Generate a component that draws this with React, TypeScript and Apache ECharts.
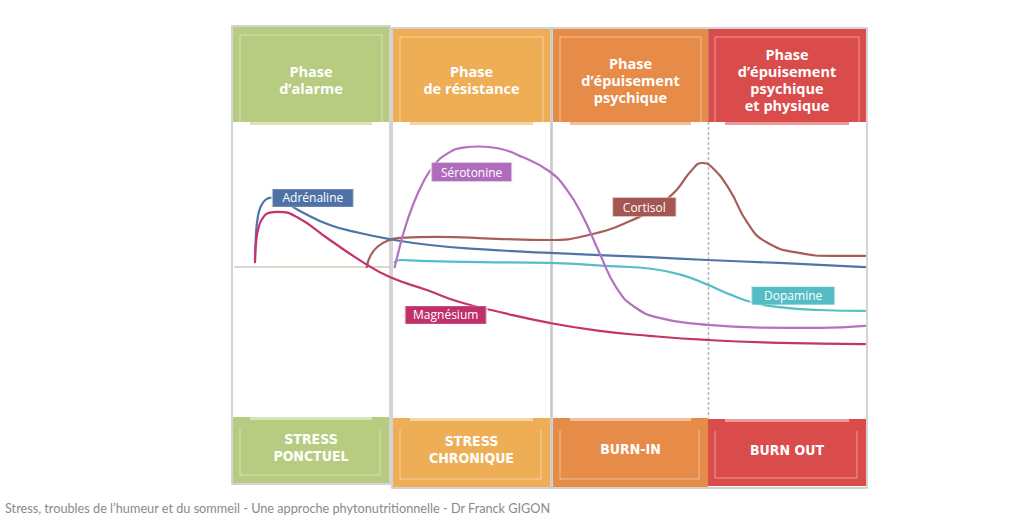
import React, { useEffect, useRef } from "react";
import * as echarts from "echarts";

// ---- Data (x: time 0..400, four phases of 100; y: level 0..100) ----
const adrenaline: number[][] = [
  [13.3, 52.7], [13.8, 61.0], [14.8, 67.0], [16.8, 71.5], [20.0, 73.9], [24.0, 74.6],
  [32.2, 73.1], [41.7, 70.1], [60.7, 65.3], [79.6, 62.6], [98.6, 60.5], [123.9, 58.5],
  [155.5, 57.1], [199.7, 55.8], [262.9, 54.4], [299.5, 53.4], [345.0, 52.4], [399.4, 51.0],
];
const magnesium: number[][] = [
  [13.3, 52.7], [14.0, 59.5], [15.6, 64.5], [18.5, 67.9], [22.7, 69.5], [27.8, 69.8], [39.8, 68.0],
  [60.7, 60.2], [81.5, 52.7], [98.6, 47.6], [122.0, 43.2], [142.8, 39.1], [168.1, 35.7],
  [199.7, 32.0], [231.3, 29.3], [262.9, 27.6], [299.5, 26.2], [345.0, 25.2], [399.4, 24.8],
];
const serotonin: number[][] = [
  [101.7, 51.0], [104.0, 56.0], [107.5, 63.0], [112.5, 71.0], [119.4, 79.5], [126.5, 85.5],
  [135.0, 89.6], [145.0, 91.6], [155.0, 92.0], [167.0, 91.4], [182.6, 88.4], [199.7, 83.5],
  [210.4, 77.5], [220.5, 68.5], [231.3, 55.8], [242.0, 44.0], [253.4, 37.5], [269.2, 33.7],
  [294.5, 31.6], [332.4, 30.4], [370.3, 30.3], [399.4, 31.0],
];
const cortisol: number[][] = [
  [84.0, 51.0], [86.5, 55.0], [91.0, 58.0], [97.0, 59.9], [105.0, 60.9], [128.3, 61.3],
  [166.2, 60.6], [199.7, 60.2], [225.0, 62.0], [250.0, 66.5], [269.2, 72.1], [280.5, 77.5],
  [289.0, 83.5], [296.4, 86.4], [302.0, 85.2], [313.4, 77.5], [325.0, 66.0], [336.8, 59.5],
  [357.7, 55.8], [378.5, 54.8], [399.4, 54.8],
];
const dopamine: number[][] = [
  [101.7, 52.7], [104.9, 53.4], [117.5, 53.1], [155.5, 52.7], [199.7, 52.4], [242.0, 51.2],
  [262.9, 50.5], [282.0, 48.5], [298.9, 45.2], [313.4, 41.8], [327.3, 39.1], [345.0, 37.4],
  [370.3, 36.4], [399.4, 36.1],
];
const baseline: number[][] = [[0, 51.0], [98.5, 51.0]];

const calloutNames = ["Adrénaline", "Sérotonine", "Cortisol", "Dopamine", "Magnésium"];
const calloutAnchors: number[][] = [[49.9, 74.5], [150.4, 83.3], [259.7, 71.4], [353.9, 41.2], [134.0, 34.7]];

const phaseTitles: string[][] = [
  ["Phase", "d’alarme"],
  ["Phase", "de résistance"],
  ["Phase", "d’épuisement", "psychique"],
  ["Phase", "d’épuisement", "psychique", "et physique"],
];
const stageLabels: string[][] = [
  ["STRESS", "PONCTUEL"],
  ["STRESS", "CHRONIQUE"],
  ["BURN-IN"],
  ["BURN OUT"],
];
const caption = "Stress, troubles de l’humeur et du sommeil - Une approche phytonutritionnelle - Dr Franck GIGON";

// ---- Styles / layout ----
const lineColors = {
  adrenaline: "#4f74a8",
  magnesium: "#c4336c",
  serotonin: "#b471be",
  cortisol: "#a75e57",
  dopamine: "#55bec6",
};
const calloutColors = ["#4e72a6", "#b06cbc", "#a45752", "#55bcc5", "#c0316b"];
const calloutSizes: number[][] = [[82, 18], [81, 19], [64, 19], [84, 18], [82, 18]];

const panelBoxes = [
  { x0: 233, x1: 389, top: 27, hb: 122, ft: 417, fb: 483, fc: 447.5, color: "#b7cc80", light: "#d8e4b8" },
  { x0: 393, x1: 550, top: 29, hb: 122, ft: 418, fb: 487, fc: 449, color: "#eeae55", light: "#f6d3a0" },
  { x0: 553, x1: 708, top: 29, hb: 122, ft: 418, fb: 487, fc: 449, color: "#e78b48", light: "#f2bf98" },
  { x0: 708, x1: 866, top: 29, hb: 122, ft: 419, fb: 486, fc: 450, color: "#da4b4b", light: "#ec9a9a" },
];

function buildGraphics() {
  const g: any[] = [];
  const borderColor = "#c5c5c5";
  const outers = [
    { x0: 233, x1: 389, top: 27, fb: 483 },
    { x0: 393, x1: 550, top: 29, fb: 487 },
    { x0: 553, x1: 866, top: 29, fb: 487 },
  ];
  outers.forEach((o) => {
    g.push({
      type: "rect",
      z: 0,
      shape: { x: o.x0 - 1, y: o.top - 1, width: o.x1 - o.x0 + 2, height: o.fb - o.top + 2 },
      style: { fill: "#ffffff", stroke: borderColor, lineWidth: 1.5 },
    });
  });
  panelBoxes.forEach((p, i) => {
    const w = p.x1 - p.x0;
    const cx = (p.x0 + p.x1) / 2;
    g.push({ type: "rect", z: 1, shape: { x: p.x0, y: p.top, width: w, height: p.hb - p.top }, style: { fill: p.color } });
    g.push({
      type: "polyline",
      z: 2,
      shape: { points: [[p.x0 + 7, p.hb], [p.x0 + 7, p.top + 8], [p.x1 - 7, p.top + 8], [p.x1 - 7, p.hb]] },
      style: { stroke: "rgba(255,255,255,0.45)", lineWidth: 1, fill: null },
    });
    g.push({ type: "rect", z: 2, shape: { x: p.x0 + 17, y: p.hb, width: w - 34, height: 3 }, style: { fill: p.light } });
    const lines = phaseTitles[i];
    const step = 17;
    const y0 = 80 - ((lines.length - 1) * step) / 2;
    lines.forEach((t, k) => {
      g.push({
        type: "text",
        z: 3,
        style: {
          x: cx,
          y: y0 + k * step,
          text: t,
          fill: "#ffffff",
          font: "bold 14.5px 'Open Sans', 'Noto Sans', sans-serif",
          align: "center",
          verticalAlign: "middle",
        },
      });
    });
    g.push({ type: "rect", z: 1, shape: { x: p.x0, y: p.ft, width: w, height: p.fb - p.ft }, style: { fill: p.color } });
    g.push({ type: "rect", z: 2, shape: { x: p.x0 + 17, y: p.ft, width: w - 34, height: 3 }, style: { fill: p.light } });
    g.push({
      type: "polyline",
      z: 2,
      shape: { points: [[p.x0 + 7, p.ft + 12], [p.x0 + 7, p.fb - 8], [p.x1 - 9, p.fb - 8], [p.x1 - 9, p.ft + 12]] },
      style: { stroke: "rgba(255,255,255,0.45)", lineWidth: 1, fill: null },
    });
    const fl = stageLabels[i];
    const fstep = 17;
    const fy0 = p.fc - ((fl.length - 1) * fstep) / 2;
    fl.forEach((t, k) => {
      g.push({
        type: "text",
        z: 3,
        style: {
          x: cx,
          y: fy0 + k * fstep,
          text: t,
          fill: "#ffffff",
          font: "bold 14px 'DejaVu Sans Condensed', 'Liberation Sans Narrow', sans-serif",
          align: "center",
          verticalAlign: "middle",
        },
      });
    });
  });
  g.push({
    type: "line",
    z: 1,
    shape: { x1: 708.5, y1: 29, x2: 708.5, y2: 122 },
    style: { stroke: "rgba(160,160,160,0.5)", lineWidth: 1 },
  });
  g.push({
    type: "line",
    z: 1,
    shape: { x1: 708.5, y1: 122, x2: 708.5, y2: 418 },
    style: { stroke: "#b8b8b8", lineWidth: 1.5, lineDash: [3, 2] },
  });
  g.push({
    type: "text",
    z: 3,
    style: {
      x: 5,
      y: 508,
      text: caption,
      fill: "#8a8a8a",
      font: "12.7px Lato, 'Open Sans', sans-serif",
      align: "left",
      verticalAlign: "middle",
    },
  });
  return g;
}

function lineSeries(name: string, data: number[][], color: string, z: number) {
  return {
    name,
    type: "line",
    data,
    z,
    showSymbol: false,
    smooth: 0.5,
    lineStyle: { color, width: 2.2, cap: "round", join: "round" },
    silent: true,
  };
}

export default function App() {
  const ref = useRef<HTMLDivElement>(null);
  useEffect(() => {
    if (!ref.current) return;
    const chart = echarts.init(ref.current, undefined, { renderer: "svg" });
    chart.setOption({
      animation: false,
      backgroundColor: "#ffffff",
      grid: { left: 234, right: 158, top: 123, bottom: 104 },
      xAxis: { type: "value", min: 0, max: 400, show: false },
      yAxis: { type: "value", min: 0, max: 100, show: false },
      graphic: buildGraphics(),
      series: [
        {
          name: "baseline",
          type: "line",
          data: baseline,
          z: 2,
          showSymbol: false,
          lineStyle: { color: "#cdceb9", width: 1.5 },
          silent: true,
        },
        lineSeries("Dopamine", dopamine, lineColors.dopamine, 3),
        lineSeries("Cortisol", cortisol, lineColors.cortisol, 4),
        lineSeries("Adrénaline", adrenaline, lineColors.adrenaline, 5),
        lineSeries("Sérotonine", serotonin, lineColors.serotonin, 6),
        lineSeries("Magnésium", magnesium, lineColors.magnesium, 7),
        {
          name: "callouts",
          type: "scatter",
          z: 10,
          silent: true,
          data: calloutAnchors.map((c, i) => ({
            value: c,
            name: calloutNames[i],
            symbol: "rect",
            symbolSize: calloutSizes[i],
            itemStyle: { color: calloutColors[i], borderColor: "rgba(255,255,255,0.6)", borderWidth: 1, opacity: 1 },
          })),
          label: {
            show: true,
            position: "inside",
            formatter: (p: any) => p.name,
            color: "#ffffff",
            fontSize: 12,
            fontWeight: 500,
            fontFamily: "'Open Sans', 'Noto Sans', sans-serif",
          },
        },
      ],
    });
    return () => chart.dispose();
  }, []);
  return <div ref={ref} style={{ position: "absolute", left: 0, top: 0, width: 1024, height: 521 }} />;
}
